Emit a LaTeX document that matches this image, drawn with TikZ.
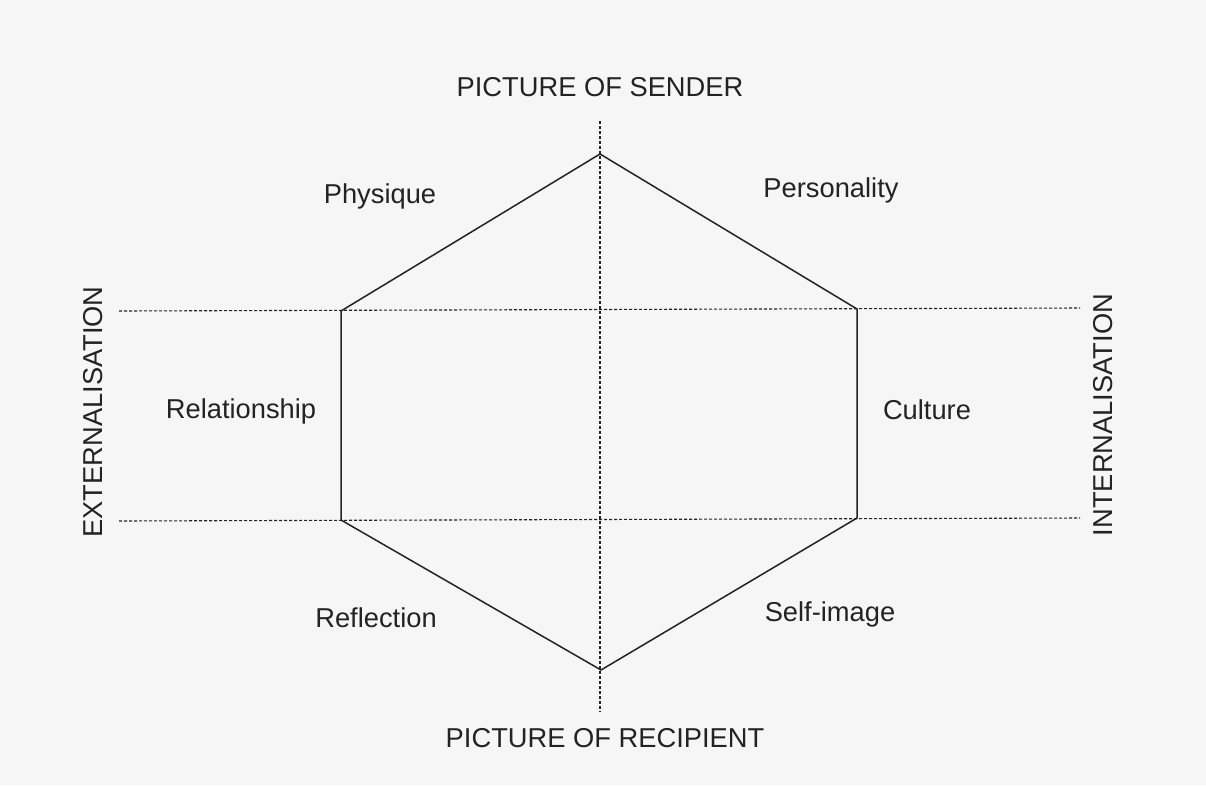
\documentclass[tikz,border=0pt]{standalone}
\usepackage{fontspec}
\setmainfont{Liberation Sans}
\definecolor{paper}{RGB}{246,246,246}
\definecolor{ink}{RGB}{35,35,35}
\tikzset{
  hexline/.style={draw=ink, line width=1.5pt, line join=miter},
  guide/.style={draw=ink, line width=1.1pt, dash pattern=on 3pt off 2pt},
  lbl/.style={text=ink, font=\fontsize{27.3}{31}\selectfont, inner sep=0pt},
}
\begin{document}
\begin{tikzpicture}[x=1pt,y=-1pt]
\fill[paper] (0,0) rectangle (1206,785);
\useasboundingbox (0,0) rectangle (1206,785);
% hexagon vertices
\coordinate (T) at (600,154);
\coordinate (TL) at (341,311);
\coordinate (TR) at (857,309);
\coordinate (BR) at (857,518);
\coordinate (BL) at (341,520);
\coordinate (B) at (601,670);
% guide line ends
\coordinate (vt) at (600,121);
\coordinate (vb) at (600,712);
\coordinate (hl1) at (119,311);
\coordinate (hr1) at (1080,308);
\coordinate (hl2) at (119,521);
\coordinate (hr2) at (1080,518);
% guides
\draw[guide] (vt) -- (vb);
\draw[guide] (hl1) -- (hr1);
\draw[guide] (hl2) -- (hr2);
% hexagon
\draw[hexline] (T) -- (TR) -- (BR) -- (B) -- (BL) -- (TL) -- cycle;
% labels
\node[lbl] (sender) at (600,87) {PICTURE OF SENDER};
\node[lbl] (recip) at (605,738) {PICTURE OF RECIPIENT};
\node[lbl, rotate=90] (ext) at (93,412) {EXTERNALISATION};
\node[lbl, rotate=90] (int) at (1103,415) {INTERNALISATION};
\node[lbl] (phys) at (380,196) {Physique};
\node[lbl] (pers) at (831,190) {Personality};
\node[lbl] (rel) at (241,411) {Relationship};
\node[lbl] (cult) at (927,410) {Culture};
\node[lbl] (refl) at (376,618) {Reflection};
\node[lbl] (self) at (830,614) {Self-image};
\end{tikzpicture}
\end{document}
